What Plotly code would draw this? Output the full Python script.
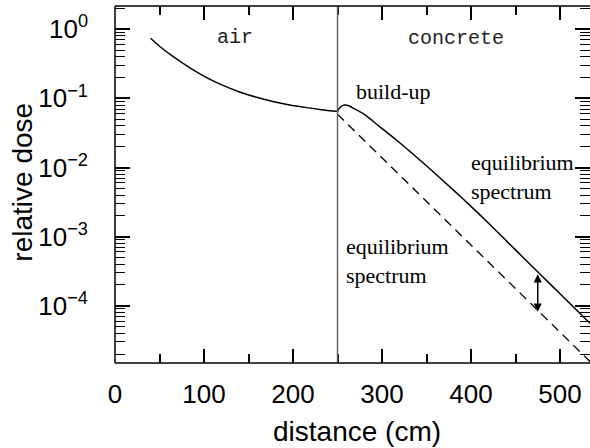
import math
import plotly.graph_objects as go

# ---- data ----
air_distance = [40, 50, 65.5, 85, 103, 120, 140, 160, 177.5, 195, 215, 232, 250]
air_dose = [0.741, 0.569, 0.401, 0.272, 0.200, 0.157, 0.124, 0.103, 0.0902, 0.0809, 0.0735, 0.0687, 0.0649]

concrete_distance = [250, 253, 258, 264, 268, 279, 297, 316.5, 335, 354, 380, 400, 420, 440, 460, 480, 500, 533.7]
concrete_dose = [0.065, 0.0745, 0.0800, 0.0769, 0.0719, 0.0600, 0.0394, 0.0248, 0.01556, 0.00953,
                 4.75e-3, 2.74e-3, 1.55e-3, 8.61e-4, 4.79e-4, 2.67e-4, 1.49e-4, 5.56e-5]

equilibrium_distance = [250, 300, 350, 400, 450, 500, 535]
equilibrium_dose = [0.059, 0.0138, 3.24e-3, 7.6e-4, 1.78e-4, 4.17e-5, 1.5e-5]

interface_distance = 250
arrow_distance = 475
arrow_top = 3.0e-4
arrow_bottom = 8.2e-5

y_major = [1e-4, 1e-3, 1e-2, 1e-1, 1e0]
y_major_text = ["10<sup>−4</sup>", "10<sup>−3</sup>", "10<sup>−2</sup>", "10<sup>−1</sup>", "10<sup>0</sup>"]
y_minor = [m * 10.0 ** k for k in range(-5, 1) for m in range(2, 10)]
x_major = [0, 100, 200, 300, 400, 500]

sans = "Liberation Sans, Arial, sans-serif"
serif = "Liberation Serif, Times New Roman, serif"
mono = "Liberation Mono, Courier New, monospace"

fig = go.Figure()
fig.add_trace(go.Scatter(x=air_distance, y=air_dose, mode="lines",
                         line=dict(color="black", width=1.5, shape="spline", smoothing=0.8)))
fig.add_trace(go.Scatter(x=concrete_distance, y=concrete_dose, mode="lines",
                         line=dict(color="black", width=1.5, shape="spline", smoothing=0.8)))
fig.add_trace(go.Scatter(x=equilibrium_distance, y=equilibrium_dose, mode="lines",
                         line=dict(color="black", width=1.3, dash="9px,6px")))

# interface line
fig.add_shape(type="line", xref="x", yref="paper", x0=interface_distance, x1=interface_distance,
              y0=0, y1=1, line=dict(color="#666666", width=1.5))
# frame: left, bottom, top
for x0, y0, x1, y1 in [(0, 0, 0, 1), (0, 0, 1, 0), (0, 1, 1, 1)]:
    fig.add_shape(type="line", xref="paper", yref="paper", x0=x0, y0=y0, x1=x1, y1=y1,
                  line=dict(color="black", width=1.5))

# double arrow
fig.add_annotation(x=arrow_distance, y=math.log10(arrow_bottom), ax=arrow_distance, ay=math.log10(arrow_top),
                   xref="x", yref="y", axref="x", ayref="y", text="", showarrow=True,
                   arrowhead=2, startarrowhead=2, arrowside="end+start", arrowsize=1.1,
                   startarrowsize=1.1, arrowwidth=1.5, arrowcolor="black")

fig.add_annotation(x=134.8, y=-0.122, xref="x", yref="y", text="air", showarrow=False,
                   xanchor="center", yanchor="middle", font=dict(family=mono, size=20, color="#222"))
fig.add_annotation(x=383, y=-0.126, xref="x", yref="y", text="concrete", showarrow=False,
                   xanchor="center", yanchor="middle", font=dict(family=mono, size=20, color="#222"))
fig.add_annotation(x=313, y=-0.893, xref="x", yref="y", text="build-up", showarrow=False,
                   xanchor="center", yanchor="middle", font=dict(family=serif, size=22, color="black"))
fig.add_annotation(x=397.5, y=-2.14, xref="x", yref="y", text="equilibrium<br>spectrum", showarrow=False,
                   xanchor="left", yanchor="middle", align="left",
                   font=dict(family=serif, size=22, color="black"))
fig.add_annotation(x=257.3, y=-3.35, xref="x", yref="y", text="equilibrium<br>spectrum", showarrow=False,
                   xanchor="left", yanchor="middle", align="left",
                   font=dict(family=serif, size=22, color="black"))

# axis titles
fig.add_annotation(x=0.5105, y=-0.193, xref="paper", yref="paper", text="distance (cm)", showarrow=False,
                   xanchor="center", yanchor="middle", font=dict(family=sans, size=28, color="black"))
fig.add_annotation(x=-0.1937, y=0.508, xref="paper", yref="paper", text="relative dose", showarrow=False,
                   xanchor="center", yanchor="middle", textangle=-90,
                   font=dict(family=sans, size=28, color="black"))

fig.update_layout(
    width=590, height=448,
    margin=dict(l=115, r=0, t=6, b=85),
    paper_bgcolor="white", plot_bgcolor="white",
    showlegend=False,
    font=dict(family=sans, size=26, color="black"),
    xaxis=dict(range=[0, 533.7], tickvals=x_major, ticks="inside", ticklen=14, tickwidth=1.5,
               tickcolor="black", mirror="ticks", showline=False, showgrid=False, zeroline=False,
               ticklabelstandoff=13,
               minor=dict(dtick=50, tick0=0, ticks="inside", ticklen=9, tickwidth=1.5, tickcolor="black",
                          showgrid=False),
               tickfont=dict(family=sans, size=26, color="black")),
    yaxis=dict(type="log", range=[-4.829, 0.337], tickvals=y_major, ticktext=y_major_text,
               ticks="inside", ticklen=15, tickwidth=1.5, tickcolor="black", mirror="ticks",
               showline=False, showgrid=False, zeroline=False, ticklabelstandoff=26,
               minor=dict(tickvals=y_minor, ticks="inside", ticklen=10, tickwidth=1.2, tickcolor="black",
                          showgrid=False),
               tickfont=dict(family=sans, size=26, color="black")),
)

fig.write_html("out.html", config={"displayModeBar": False},
               post_script="document.body.style.margin='0';document.body.style.overflow='hidden';")
